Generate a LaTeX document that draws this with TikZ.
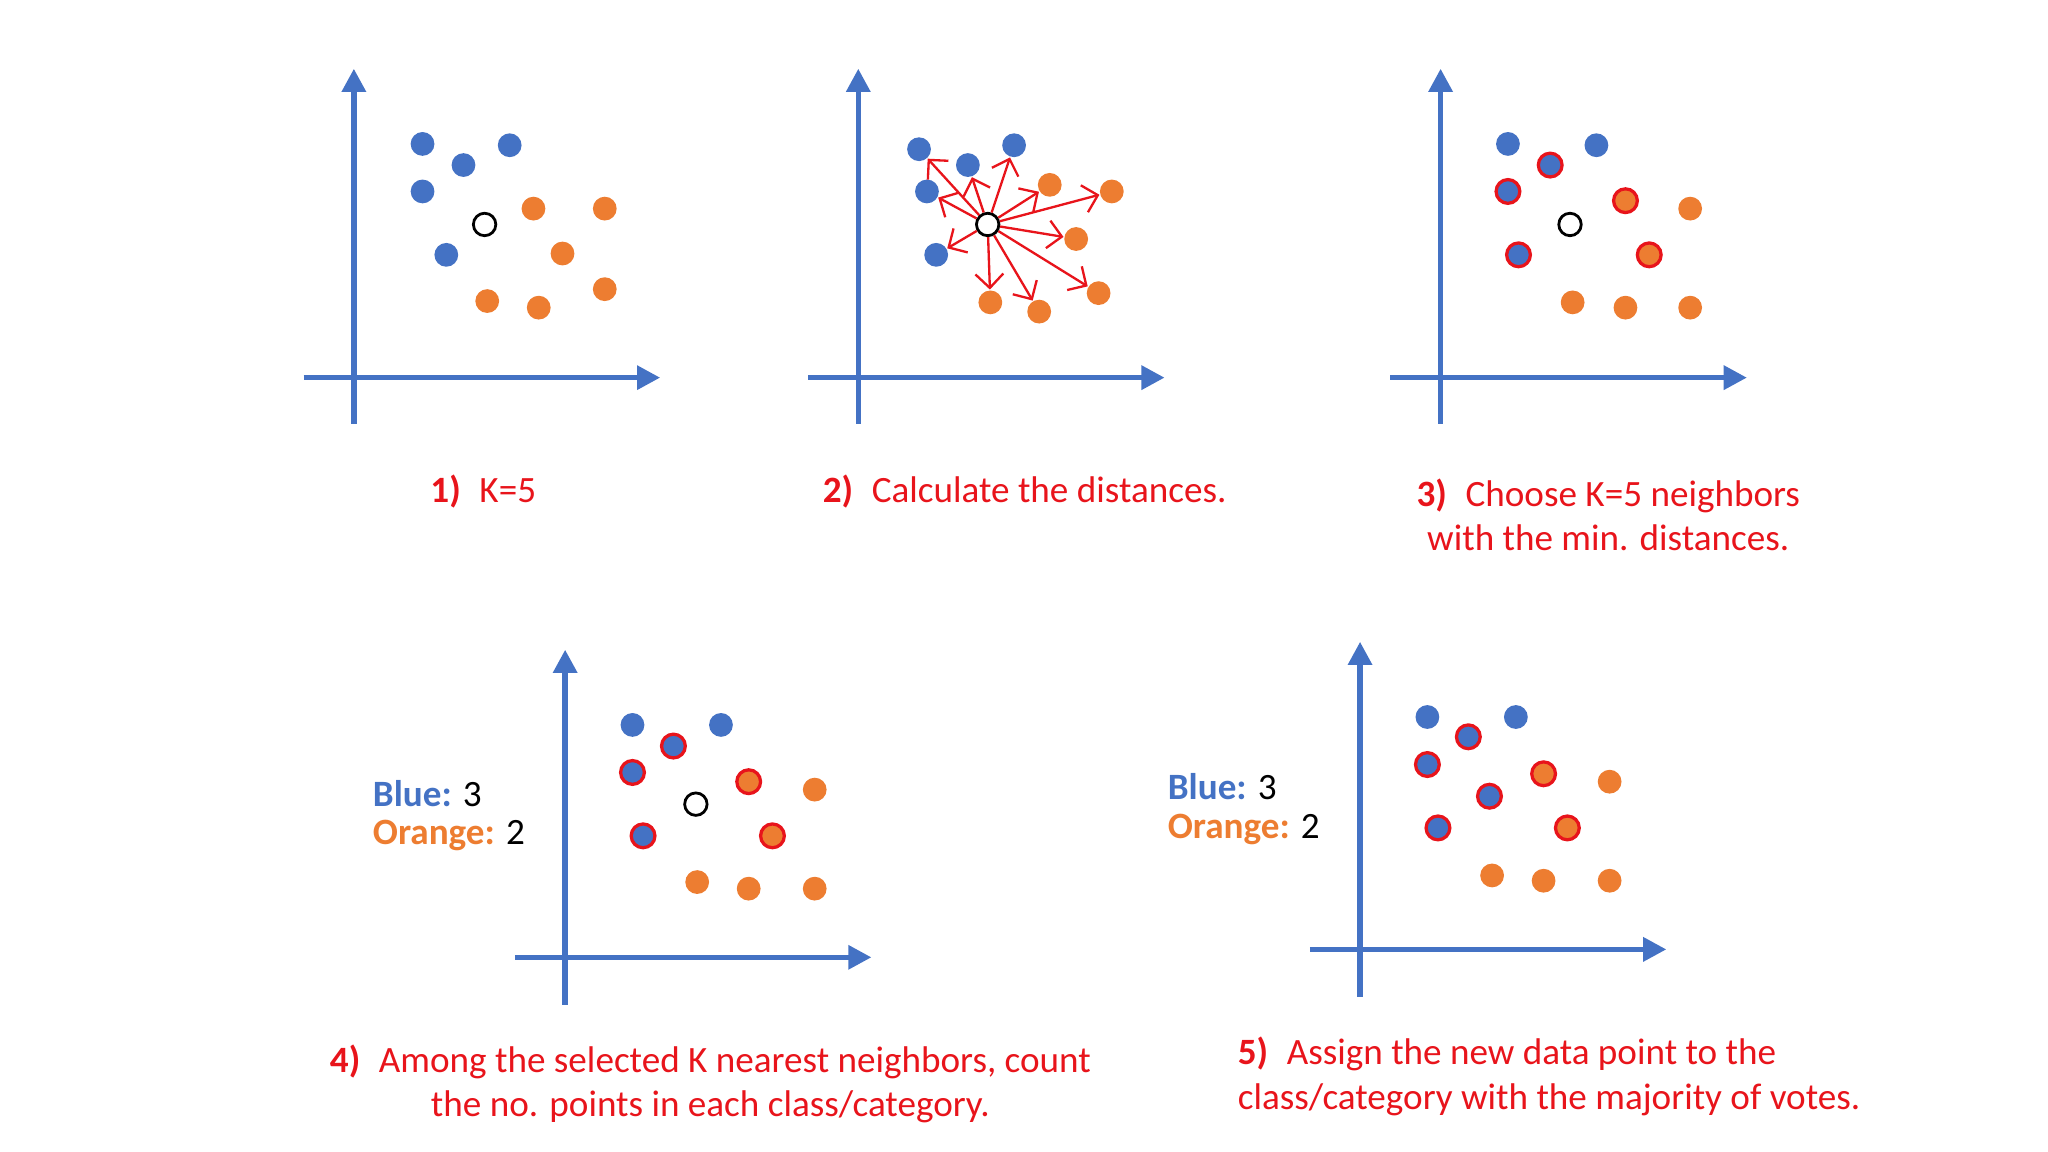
\documentclass[tikz,border=0pt]{standalone}
\usepackage{fontspec}
\setmainfont{Carlito}
\usetikzlibrary{arrows.meta}
\definecolor{kblue}{HTML}{4472C4}
\definecolor{korange}{HTML}{ED7D31}
\definecolor{kred}{HTML}{E8141B}
\tikzset{
  axis/.style={draw=kblue, line width=1.2pt, -{Triangle[length=5pt,width=5pt]}},
  bpt/.style={circle, fill=kblue, inner sep=0pt, minimum size=0.18cm},
  opt/.style={circle, fill=korange, inner sep=0pt, minimum size=0.18cm},
  sel/.style={draw=kred, line width=0.7pt},
  newpt/.style={circle, draw=black, fill=white, line width=0.6pt, inner sep=0pt, minimum size=0.17cm},
  caption/.style={text=kred, font=\fontsize{8}{9.6}\selectfont},
  tally/.style={anchor=west, font=\fontsize{8}{9.6}\selectfont},
}
\begin{document}
\begin{tikzpicture}[x=0.01cm, y=-0.01cm]
  \useasboundingbox (0,0) rectangle (1551,872.4);
  % 1) K=5
  \draw[axis] (230,286) -- (500,286);
  \draw[axis] (268,321) -- (268,52);
  \foreach \x/\y [count=\i] in {320/109,351/125,386/110,320/145,338/193}
    \node[bpt] (a-b\i) at (\x,\y) {};
  \foreach \x/\y [count=\i] in {404/158,458/158,426/192,458/219,369/228,408/233}
    \node[opt] (a-o\i) at (\x,\y) {};
  \node[newpt] (a-new) at (367,170) {};
  \node[caption] (a-cap) at (366,372) {\textbf{1)}\enspace K=5};

  % 2) distances
  \draw[axis] (612,286) -- (882,286);
  \draw[axis] (650,321) -- (650,52);
  \foreach \x/\y [count=\i] in {696/113,733/125,768/110,702/145,709/193}
    \node[bpt] (b-b\i) at (\x,\y) {};
  \foreach \x/\y [count=\i] in {795/140,842/145,815/181,832/222,750/229,787/236}
    \node[opt] (b-o\i) at (\x,\y) {};
  \node[newpt] (b-new) at (748,170) {};
  \foreach \p in {b-b1,b-b2,b-b3,b-b4,b-b5,b-o1,b-o2,b-o3,b-o4,b-o5,b-o6}
    \draw[kred, line width=0.5pt, -{Straight Barb[length=3pt]}] (b-new) -- (\p);
  \node[caption] (b-cap) at (776,372) {\textbf{2)}\enspace Calculate the distances.};

  % 3) choose neighbours
  \draw[axis] (1053,286) -- (1323,286);
  \draw[axis] (1091,321) -- (1091,52);
  \foreach \x/\y [count=\i] in {1142/109,1209/110}
    \node[bpt] (c-b\i) at (\x,\y) {};
  \foreach \x/\y [count=\i] in {1174/125,1142/145,1150/193}
    \node[bpt, sel] (c-s\i) at (\x,\y) {};
  \foreach \x/\y [count=\i] in {1231/152,1249/193}
    \node[opt, sel] (c-t\i) at (\x,\y) {};
  \foreach \x/\y [count=\i] in {1280/158,1191/229,1231/233,1280/233}
    \node[opt] (c-o\i) at (\x,\y) {};
  \node[newpt] (c-new) at (1189,170) {};
  \node[caption, align=center] (c-cap) at (1218,390) {\textbf{3)}\enspace Choose K=5 neighbors\\with the min. distances.};

  % 4) count
  \draw[axis] (390,725) -- (660,725);
  \draw[axis] (428,761) -- (428,492);
  \foreach \x/\y [count=\i] in {479/549,546/549}
    \node[bpt] (d-b\i) at (\x,\y) {};
  \foreach \x/\y [count=\i] in {510/565,479/585,487/633}
    \node[bpt, sel] (d-s\i) at (\x,\y) {};
  \foreach \x/\y [count=\i] in {567/592,585/633}
    \node[opt, sel] (d-t\i) at (\x,\y) {};
  \foreach \x/\y [count=\i] in {617/598,528/668,567/673,617/673}
    \node[opt] (d-o\i) at (\x,\y) {};
  \node[newpt] (d-new) at (527,609) {};
  \node[tally] (d-blue) at (270,601) {\textcolor{kblue}{\textbf{Blue:}} 3};
  \node[tally] (d-orange) at (270,633) {\textcolor{korange}{\textbf{Orange:}} 2};
  \node[caption, align=center] (d-cap) at (538,821) {\textbf{4)}\enspace Among the selected K nearest neighbors, count\\the no. points in each class/category.};

  % 5) assign
  \draw[axis] (992,719) -- (1262,719);
  \draw[axis] (1030,755) -- (1030,486);
  \foreach \x/\y [count=\i] in {1081/543,1148/543}
    \node[bpt] (e-b\i) at (\x,\y) {};
  \foreach \x/\y [count=\i] in {1112/558,1081/579,1089/627,1128/603}
    \node[bpt, sel] (e-s\i) at (\x,\y) {};
  \foreach \x/\y [count=\i] in {1169/586,1187/627}
    \node[opt, sel] (e-t\i) at (\x,\y) {};
  \foreach \x/\y [count=\i] in {1219/592,1130/663,1169/667,1219/667}
    \node[opt] (e-o\i) at (\x,\y) {};
  \node[tally] (e-blue) at (872,596) {\textcolor{kblue}{\textbf{Blue:}} 3};
  \node[tally] (e-orange) at (872,628) {\textcolor{korange}{\textbf{Orange:}} 2};
  \node[caption, align=left, anchor=west] (e-cap) at (925,815) {\textbf{5)}\enspace Assign the new data point to the\\class/category with the majority of votes.};
\end{tikzpicture}
\end{document}
